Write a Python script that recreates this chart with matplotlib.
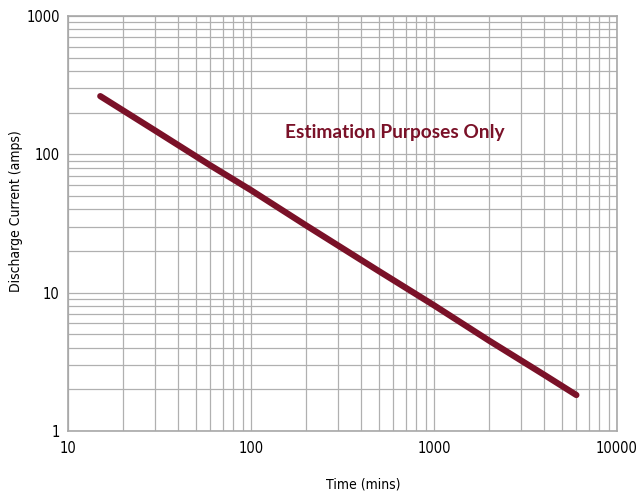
import matplotlib
matplotlib.use('Agg')
import matplotlib.pyplot as plt
from matplotlib.ticker import LogLocator, NullFormatter, FixedLocator, FixedFormatter

# Discharge curve
time_mins = [15, 30, 60, 100, 200, 500, 1000, 2000, 4000, 6000]
current_amps = [263, 148, 83, 55, 30.6, 14.3, 8.1, 4.5, 2.55, 1.82]

x_ticks = [10, 100, 1000, 10000]
y_ticks = [1, 10, 100, 1000]

plt.rcParams['font.family'] = ['DejaVu Sans']
plt.rcParams['font.stretch'] = 'condensed'

fig = plt.figure(figsize=(6.42, 4.96), dpi=100)
ax = fig.add_axes([0.106, 0.131, 0.855, 0.837])

ax.plot(time_mins, current_amps, color='#7a1128', linewidth=4.5,
        solid_capstyle='round', zorder=3)

ax.set_xscale('log')
ax.set_yscale('log')
ax.set_xlim(10, 10000)
ax.set_ylim(1, 1000)

ax.xaxis.set_major_locator(FixedLocator(x_ticks))
ax.xaxis.set_major_formatter(FixedFormatter([str(v) for v in x_ticks]))
ax.yaxis.set_major_locator(FixedLocator(y_ticks))
ax.yaxis.set_major_formatter(FixedFormatter([str(v) for v in y_ticks]))
ax.xaxis.set_minor_locator(LogLocator(base=10, subs=range(2, 10)))
ax.yaxis.set_minor_locator(LogLocator(base=10, subs=range(2, 10)))
ax.xaxis.set_minor_formatter(NullFormatter())
ax.yaxis.set_minor_formatter(NullFormatter())

ax.grid(True, which='both', color='#b0b0b0', linewidth=0.9)
ax.tick_params(which='both', length=0, labelsize=10.5)
ax.tick_params(axis='x', pad=7)
ax.tick_params(axis='y', pad=6)
for s in ax.spines.values():
    s.set_color('#a8a8a8')
    s.set_linewidth(1.2)

# axis titles placed in figure pixels to match the reference layout
fig.text(363 / 642, 1 - 484 / 496, 'Time (mins)', fontsize=10,
         ha='center', va='center')
fig.text(16 / 642, 1 - 211 / 496, 'Discharge Current (amps)', fontsize=10,
         rotation=90, ha='center', va='center')

ax.text(610, 144, 'Estimation Purposes Only', color='#7a1128', fontsize=13.8,
        fontweight='bold', family=['Lato', 'DejaVu Sans'], fontstretch='normal',
        ha='center', va='center', zorder=4)

plt.savefig('out.png', dpi=100)
